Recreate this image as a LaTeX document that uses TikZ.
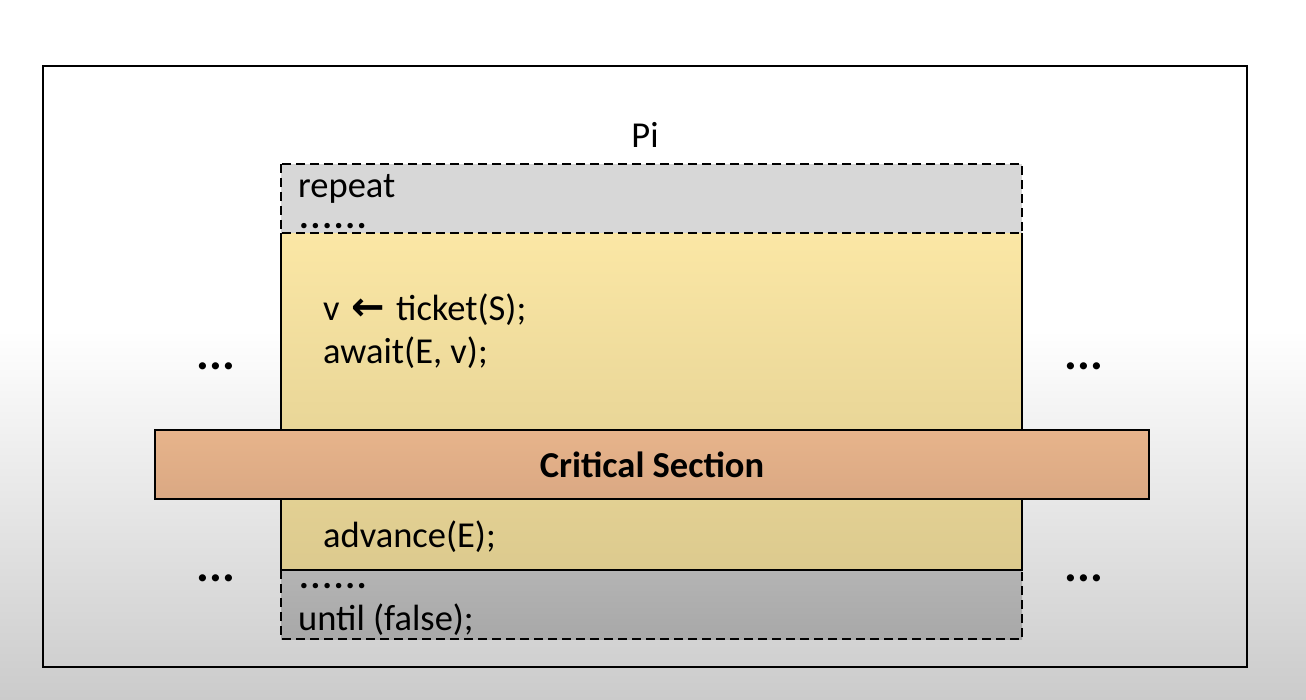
\documentclass[tikz,border=0pt]{standalone}
\usepackage{fontspec}
\setmainfont{Carlito}
\newfontfamily\arrowfont{DejaVu Sans}
\usetikzlibrary{positioning}
\definecolor{bgbottom}{HTML}{CBCBCB}
\definecolor{grayA}{HTML}{D7D7D7}
\definecolor{grayBtop}{HTML}{B4B4B4}
\definecolor{grayBbot}{HTML}{A8A8A8}
\definecolor{yellowtop}{HTML}{FBE7A5}
\definecolor{yellowbot}{HTML}{DCCA8E}
\definecolor{crittop}{HTML}{E7B48B}
\definecolor{critbot}{HTML}{DAA883}
\newcommand{\sixdots}{{\bfseries.\kern1.8pt.\kern1.8pt.\kern1.8pt.\kern1.8pt.\kern1.8pt.}}
\tikzset{
  codetext/.style={anchor=base west, inner sep=0pt, font=\fontsize{36.5}{44}\selectfont},
  dotsgap/.style={anchor=base, inner sep=0pt, font=\fontsize{48}{52}\selectfont\bfseries},
  frame/.style={draw=black, line width=2pt},
  dashframe/.style={draw=black, line width=2.2pt, dash pattern=on 9pt off 5pt},
}
\begin{document}
\begin{tikzpicture}[x=1pt, y=-1pt]
  \useasboundingbox (0,0) rectangle (1306,700);
  % page background
  \fill[white] (0,0) rectangle (1306,331);
  \fill[top color=white, bottom color=bgbottom] (0,330) rectangle (1306,700);
  % outer frame
  \draw[frame] (43,66) rectangle (1247,667);

  % process body
  \fill[top color=yellowtop, bottom color=yellowbot] (281,233) rectangle (1022,570);
  \fill[grayA] (281,164) rectangle (1022,233);
  \fill[top color=grayBtop, bottom color=grayBbot] (281,570) rectangle (1022,639);
  \draw[dashframe] (281,164) rectangle (1022,233);
  \draw[dashframe] (281,570) -- (281,639) -- (1022,639) -- (1022,570);
  \draw[frame] (281,233) -- (281,570) -- (1022,570) -- (1022,233);

  % critical section band
  \fill[top color=crittop, bottom color=critbot] (155,430) rectangle (1149,499);
  \draw[frame] (155,430) rectangle (1149,499);
  \node[anchor=base, inner sep=0pt, font=\fontsize{36.5}{44}\selectfont\bfseries] (crit) at (652,477) {Critical Section};

  % labels
  \node[anchor=base, inner sep=0pt, font=\fontsize{36.5}{44}\selectfont] (pi) at (645,148) {Pi};
  \node[codetext] (rep) at (298,198) {repeat};
  \node[codetext] (dotsA) at (299,229) {\sixdots};
  \node[codetext] (tick) at (323,321) {v\kern12pt{\arrowfont\bfseries\fontsize{40}{44}\selectfont ←}\kern11pt ticket(S);};
  \node[codetext] (await) at (323,363) {await(E, v);};
  \node[codetext] (adv) at (323,547) {advance(E);};
  \node[codetext] (dotsB) at (299,588) {\sixdots};
  \node[codetext] (until) at (298,630) {until (false);};

  % elided neighbours
  \node[dotsgap] (lu) at (216,370) {...};
  \node[dotsgap] (ru) at (1084,370) {...};
  \node[dotsgap] (ll) at (216,581) {...};
  \node[dotsgap] (rl) at (1084,581) {...};
\end{tikzpicture}
\end{document}
